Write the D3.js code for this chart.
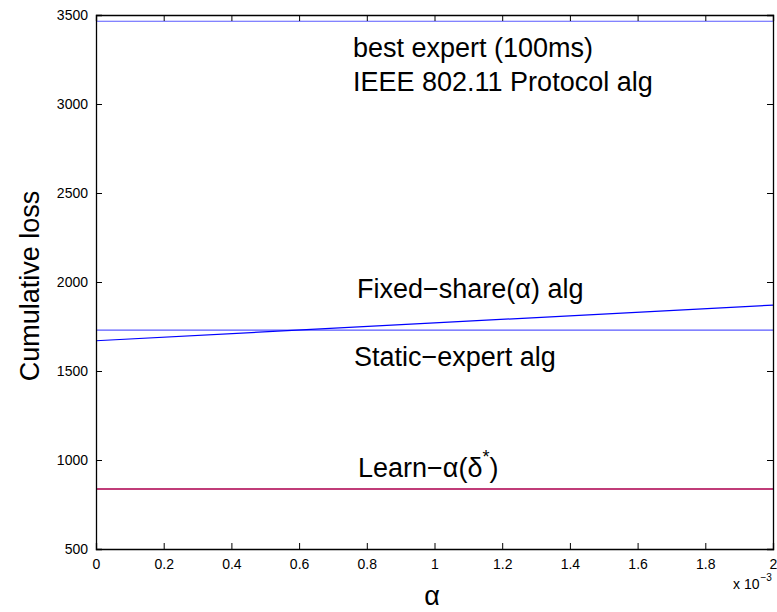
<!DOCTYPE html>
<html>
<head>
<meta charset="utf-8">
<script src="https://cdn.jsdelivr.net/npm/d3@7"></script>
<style>
  body { margin: 0; background: #fff; }
  svg { display: block; font-family: "Liberation Sans", Arial, sans-serif; }
</style>
</head>
<body>
<script>
// data (alpha in units of 10^-3)
const alphaValues = [0, 1, 2];
const bestExpert = [3465, 3465, 3465];
const fixedShare = [1670, 1770, 1870];
const staticExpert = [1730, 1730, 1730];
const learnAlpha = [837, 837, 837];

const xTicks = [0, 0.2, 0.4, 0.6, 0.8, 1, 1.2, 1.4, 1.6, 1.8, 2];
const yTicks = [500, 1000, 1500, 2000, 2500, 3000, 3500];

// layout
const width = 777;
const height = 612;
const margin = { top: 15, right: 4, bottom: 63, left: 96 };

const svg = d3
  .select("body")
  .append("svg")
  .attr("width", width)
  .attr("height", height);

const x = d3
  .scaleLinear()
  .domain([0, 2])
  .range([margin.left, width - margin.right]);

const y = d3
  .scaleLinear()
  .domain([500, 3500])
  .range([height - margin.bottom, margin.top]);

// series
const series = [
  { values: bestExpert, color: "#5a5aff", width: 1.2 },
  { values: staticExpert, color: "#5a5aff", width: 1.2 },
  { values: fixedShare, color: "#0000ff", width: 1.2 },
  { values: learnAlpha, color: "#c03c78", width: 2 },
];

const line = d3
  .line()
  .x((d, i) => x(alphaValues[i]))
  .y((d) => y(d));

svg
  .selectAll(".series")
  .data(series)
  .enter()
  .append("path")
  .attr("class", "series")
  .attr("d", (d) => line(d.values))
  .attr("fill", "none")
  .attr("stroke", (d) => d.color)
  .attr("stroke-width", (d) => d.width);

// axes (ticks inside, box around)
const tickLen = 6;
const fmtX = (d) => (d === 0 || d === 1 || d === 2 ? String(d) : d3.format(".1f")(d));

const bottomAxis = svg
  .append("g")
  .attr("transform", `translate(0,${y(500)})`)
  .call(d3.axisBottom(x).tickValues(xTicks).tickSize(-tickLen).tickPadding(10).tickFormat(fmtX));

const topAxis = svg
  .append("g")
  .attr("transform", `translate(0,${y(3500)})`)
  .call(d3.axisTop(x).tickValues(xTicks).tickSize(-tickLen).tickFormat(""));

const leftAxis = svg
  .append("g")
  .attr("transform", `translate(${x(0)},0)`)
  .call(d3.axisLeft(y).tickValues(yTicks).tickSize(-tickLen).tickPadding(8).tickFormat(d3.format("d")));

const rightAxis = svg
  .append("g")
  .attr("transform", `translate(${x(2)},0)`)
  .call(d3.axisRight(y).tickValues(yTicks).tickSize(-tickLen).tickFormat(""));

[bottomAxis, topAxis, leftAxis, rightAxis].forEach((g) => {
  g.select(".domain").attr("stroke", "#000").attr("stroke-width", 1.3);
  g.selectAll(".tick line").attr("stroke", "#000");
  g.selectAll(".tick text")
    .attr("fill", "#000")
    .style("font-size", "14px")
    .style("font-family", "'Liberation Sans', Arial, sans-serif");
});
bottomAxis.selectAll(".tick text").attr("dy", "0.71em");

// exponent label
const expLabel = svg
  .append("text")
  .attr("x", 733)
  .attr("y", 589)
  .style("font-size", "14px");
expLabel.append("tspan").text("x 10");
expLabel
  .append("tspan")
  .attr("dy", -8)
  .attr("dx", 1)
  .style("font-size", "10px")
  .text("\u22123");

// axis titles
svg
  .append("text")
  .attr("x", 432)
  .attr("y", 605)
  .attr("text-anchor", "middle")
  .style("font-size", "27px")
  .text("\u03b1");

svg
  .append("text")
  .attr("transform", `translate(39,${(y(500) + y(3500)) / 2 + 4}) rotate(-90)`)
  .attr("text-anchor", "middle")
  .style("font-size", "27px")
  .text("Cumulative loss");

// annotations
const notes = [
  { x: 353, y: 57, text: "best expert (100ms)" },
  { x: 353, y: 91, text: "IEEE 802.11 Protocol alg" },
  { x: 357, y: 298, text: "Fixed\u2212share(\u03b1) alg" },
  { x: 354, y: 366, text: "Static\u2212expert alg" },
];

svg
  .selectAll(".note")
  .data(notes)
  .enter()
  .append("text")
  .attr("class", "note")
  .attr("x", (d) => d.x)
  .attr("y", (d) => d.y)
  .style("font-size", "27px")
  .text((d) => d.text);

const learnLabel = svg
  .append("text")
  .attr("x", 358)
  .attr("y", 477)
  .style("font-size", "27px");
learnLabel.append("tspan").text("Learn\u2212\u03b1(\u03b4");
learnLabel.append("tspan").attr("dy", -14).style("font-size", "18px").text("*");
learnLabel.append("tspan").attr("dy", 14).text(")");
</script>
</body>
</html>
